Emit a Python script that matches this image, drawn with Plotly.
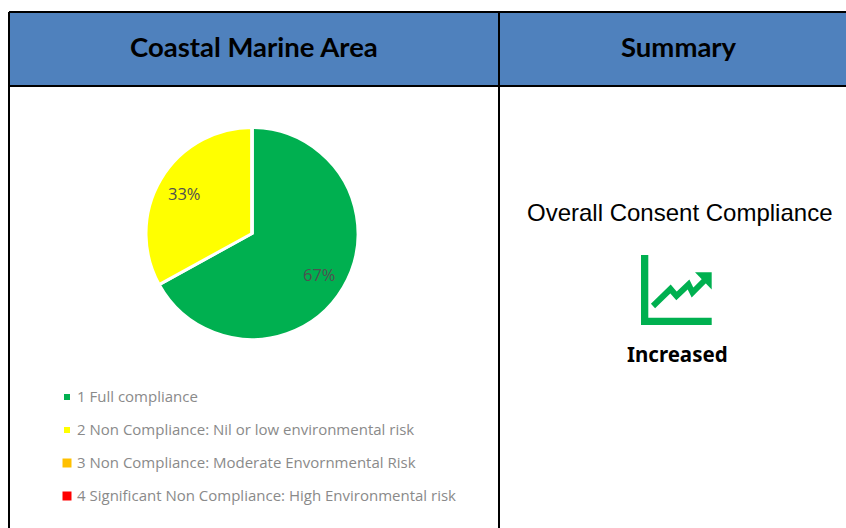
import math
import plotly.graph_objects as go

# Compliance grades and their share of consents
grades = [
    "1 Full compliance",
    "2 Non Compliance: Nil or low environmental risk",
    "3 Non Compliance: Moderate Envornmental Risk",
    "4 Significant Non Compliance: High Environmental risk",
]
shares = [67, 33, 0, 0]
grade_colors = ["#00B050", "#FFFF00", "#FFC000", "#FF0000"]
swatch_sizes = [6, 6, 9, 9]

panel_titles = ["Coastal Marine Area", "Summary"]
summary_title = "Overall Consent Compliance"
summary_status = "Increased"

W, H = 846, 528
PIE_CX, PIE_CY, PIE_R = 252, 233.5, 106
LEGEND_X, LEGEND_TOP, LEGEND_STEP = 67, 397, 33
TEXT_GREY = "#8a8a8a"
GREEN = grade_colors[0]

fig = go.Figure()

fig.add_trace(go.Pie(
    labels=grades,
    values=shares,
    sort=False,
    direction="clockwise",
    rotation=0,
    textinfo="none",
    hoverinfo="label+percent",
    showlegend=False,
    marker=dict(colors=grade_colors, line=dict(color="white", width=3)),
    domain=dict(
        x=[(PIE_CX - PIE_R) / W, (PIE_CX + PIE_R) / W],
        y=[1 - (PIE_CY + PIE_R) / H, 1 - (PIE_CY - PIE_R) / H],
    ),
))

# Legend swatches, one row per grade
rows = [LEGEND_TOP + i * LEGEND_STEP for i in range(len(grades))]
fig.add_trace(go.Scatter(
    x=[LEGEND_X] * len(grades),
    y=rows,
    mode="markers",
    hoverinfo="skip",
    showlegend=False,
    marker=dict(symbol="square", color=grade_colors, size=swatch_sizes, opacity=1, line=dict(width=0)),
))

annotations = []


def label(x, y, text, size, color, family, anchor="center", bold=False):
    annotations.append(dict(
        x=x, y=y, xref="x", yref="y", text=f"<b>{text}</b>" if bold else text,
        showarrow=False, xanchor=anchor, yanchor="middle",
        font=dict(size=size, color=color, family=family),
    ))


# Percentage labels sit three quarters of the way out along each slice's mid angle
total = sum(shares)
start = 0.0
for share in shares:
    if share:
        mid = math.radians((start + share / 2) / total * 360)
        label(PIE_CX + 0.745 * PIE_R * math.sin(mid), PIE_CY + 0.5 - 0.745 * PIE_R * math.cos(mid),
              f"{share}%", 16.5, "#505050", "Open Sans")
    start += share

for row, grade in zip(rows, grades):
    label(74.5, row - 1.5, grade, 15, TEXT_GREY, "Open Sans", anchor="left")

label(254, 46.5, panel_titles[0], 27.5, "#000000", "Lato", bold=True)
label(679, 46.5, panel_titles[1], 27.5, "#000000", "Lato", bold=True)
label(679, 212, summary_title, 24, "#000000", "Liberation Sans")
label(677, 354, summary_status, 20.5, "#000000", "Noto Sans", bold=True)

BORDER = dict(color="#000000", width=2)
shapes = [
    # Header band
    dict(type="rect", x0=9, x1=W + 2, y0=12, y1=86, fillcolor="#4F81BD", line=dict(width=0), layer="below"),
    dict(type="line", x0=9, x1=W, y0=12, y1=12, line=BORDER),
    dict(type="line", x0=9, x1=W, y0=86, y1=86, line=BORDER),
    dict(type="line", x0=9, x1=9, y0=12, y1=H, line=BORDER),
    dict(type="line", x0=499, x1=499, y0=12, y1=H, line=BORDER),
    # Trend icon: axes, zigzag and arrow head
    dict(type="path", path="M641,255 L648.3,255 L648.3,317.7 L711.7,317.7 L711.7,325 L641,325 Z",
         fillcolor=GREEN, line=dict(width=0)),
    dict(type="path", path="M653,306 L670.5,289 L676.5,296 L688.5,284.5 L692.5,292.5 L705,280",
         line=dict(color=GREEN, width=6)),
    dict(type="path", path="M695,272.3 L711.7,272.3 L711.7,289.5 Z", fillcolor=GREEN, line=dict(width=0)),
]

axis = dict(visible=False, fixedrange=True)
fig.update_layout(
    width=W, height=H,
    margin=dict(l=0, r=0, t=0, b=0),
    paper_bgcolor="white",
    plot_bgcolor="rgba(0,0,0,0)",
    xaxis=dict(range=[0, W], **axis),
    yaxis=dict(range=[H, 0], **axis),
    shapes=shapes,
    annotations=annotations,
)

fig.write_html("out.html")
